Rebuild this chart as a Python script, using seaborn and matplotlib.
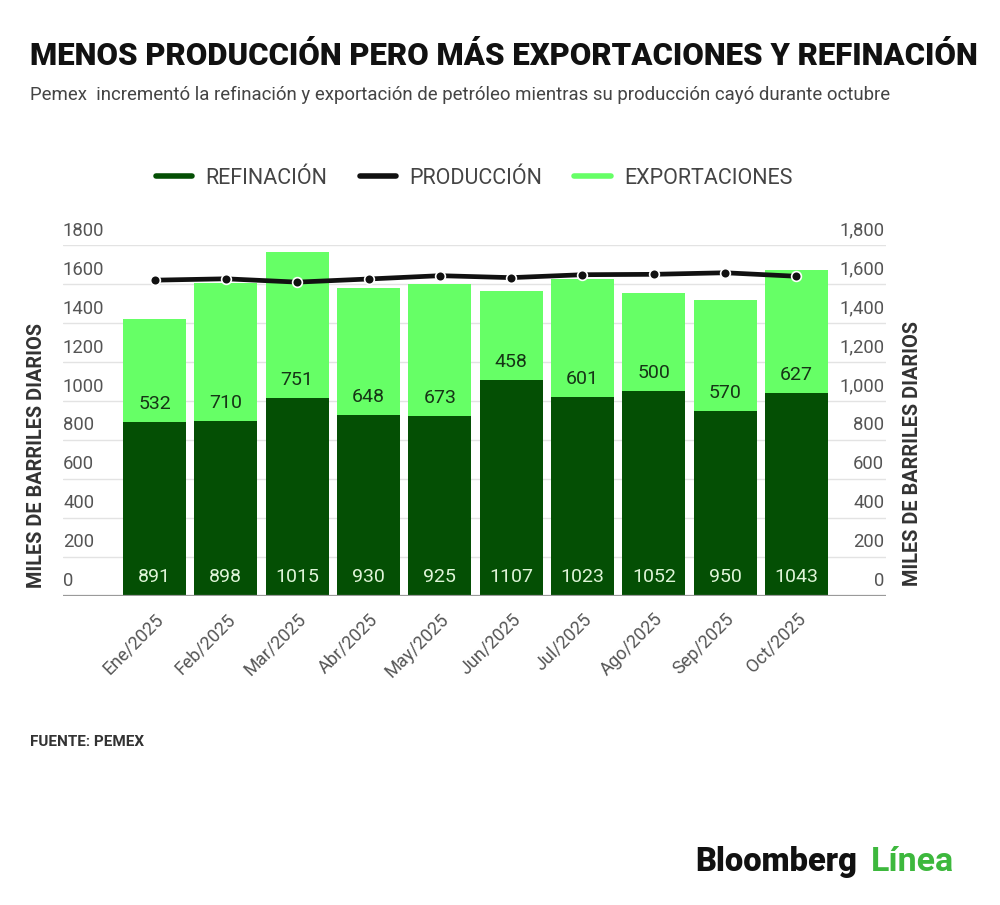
import numpy as np
import pandas as pd
import matplotlib
matplotlib.use("Agg")
import matplotlib.pyplot as plt
from matplotlib.lines import Line2D
from matplotlib.transforms import blended_transform_factory, offset_copy
import seaborn as sns

months = ["Ene/2025", "Feb/2025", "Mar/2025", "Abr/2025", "May/2025",
          "Jun/2025", "Jul/2025", "Ago/2025", "Sep/2025", "Oct/2025"]
refinacion = [891, 898, 1015, 930, 925, 1107, 1023, 1052, 950, 1043]
exportaciones = [532, 710, 751, 648, 673, 458, 601, 500, 570, 627]
produccion = [1620, 1627, 1610, 1626, 1643, 1633, 1648, 1650, 1658, 1640]
yticks = [0, 200, 400, 600, 800, 1000, 1200, 1400, 1600, 1800]

DARK = "#044f04"
LIGHT = "#66ff66"
GRAY = "#555555"

sns.set_theme(style="white")
plt.rcParams["font.family"] = ["Roboto", "DejaVu Sans"]

df = pd.DataFrame({"mes": months, "ref": refinacion, "exp": exportaciones,
                   "prod": produccion})
df["total"] = df["ref"] + df["exp"]

fig = plt.figure(figsize=(10, 9.05), dpi=100)
ax = fig.add_axes([0.063, 0.3414, 0.823, 0.3878])

sns.barplot(data=df, x="mes", y="total", color=LIGHT, width=0.88,
            saturation=1, ax=ax, zorder=2)
sns.barplot(data=df, x="mes", y="ref", color=DARK, width=0.88,
            saturation=1, ax=ax, zorder=3)
for p in ax.patches:
    p.set_edgecolor("none")

xpos = np.arange(len(months))
ax.plot(xpos, df["prod"], color="#111111", lw=3.4, zorder=5,
        marker="o", markersize=7, markerfacecolor="#111111",
        markeredgecolor="white", markeredgewidth=1.2)

ax.set_xlim(-1.283, 10.255)
ax.set_ylim(0, 1800)
for s in ax.spines.values():
    s.set_visible(False)

for v in yticks:
    ax.axhline(v, color="#e3e3e3" if v else "#9a9a9a",
               lw=1 if v else 1.6, zorder=0 if v else 4)

ax.set_yticks([])
ax.set_xlabel("")
ax.set_ylabel("")
ax.set_xticks(xpos)
ax.set_xticklabels(months, rotation=45, ha="right", va="top",
                   rotation_mode="anchor", color=GRAY, fontsize=13)
ax.tick_params(axis="x", length=0, pad=10)

tr = blended_transform_factory(ax.transAxes, ax.transData)
tr_up = offset_copy(tr, fig=fig, x=0, y=4, units="points")
for v in yticks:
    ax.text(0.0, v, f"{v}", transform=tr_up, ha="left", va="bottom",
            fontsize=13.3, color=GRAY)
    ax.text(0.998, v, f"{v:,}", transform=tr_up, ha="right", va="bottom",
            fontsize=13.3, color=GRAY)

for i, (r, e) in enumerate(zip(refinacion, exportaciones)):
    ax.text(i, 97, f"{r}", ha="center", va="center", fontsize=14,
            color="#dff5d8", zorder=6)
    ax.text(i, r + 92, f"{e}", ha="center", va="center", fontsize=14,
            color="#163516", zorder=6)

fig.text(0.037, 1 - 455 / 905, "MILES DE BARRILES DIARIOS", rotation=90,
         ha="center", va="center", fontsize=14.3, color="#333333",
         fontweight="semibold")
fig.text(0.912, 1 - 453 / 905, "MILES DE BARRILES DIARIOS", rotation=90,
         ha="center", va="center", fontsize=14.3, color="#333333",
         fontweight="semibold")

handles = [Line2D([], [], color=DARK, lw=4),
           Line2D([], [], color="#111111", lw=4),
           Line2D([], [], color=LIGHT, lw=4)]
fig.legend(handles, ["REFINACIÓN", "PRODUCCIÓN", "EXPORTACIONES"],
           loc="center", bbox_to_anchor=(0.474, 1 - 178 / 905), ncol=3,
           frameon=False, fontsize=15.5, handlelength=1.7, handletextpad=0.6,
           columnspacing=1.5, labelcolor="#444444")

fig.text(0.030, 1 - 56 / 905,
         "MENOS PRODUCCIÓN PERO MÁS EXPORTACIONES Y REFINACIÓN",
         ha="left", va="center", fontsize=22.45, fontweight="heavy",
         color="#111111")
fig.text(0.030, 1 - 95 / 905,
         "Pemex  incrementó la refinación y exportación de petróleo mientras su producción cayó durante octubre",
         ha="left", va="center", fontsize=13.4, color="#444444")
fig.text(0.030, 1 - 742 / 905, "FUENTE: PEMEX", ha="left", va="center",
         fontsize=11, fontweight="bold", color="#333333")

fig.text(0.695, 1 - 862 / 905, "Bloomberg", ha="left", va="center",
         fontsize=23.5, fontweight="heavy", color="#111111")
fig.text(0.871, 1 - 862 / 905, "Línea", ha="left", va="center",
         fontsize=24.5, fontweight="bold", color="#3db83d")

fig.savefig("out.png", dpi=100, facecolor="white")
